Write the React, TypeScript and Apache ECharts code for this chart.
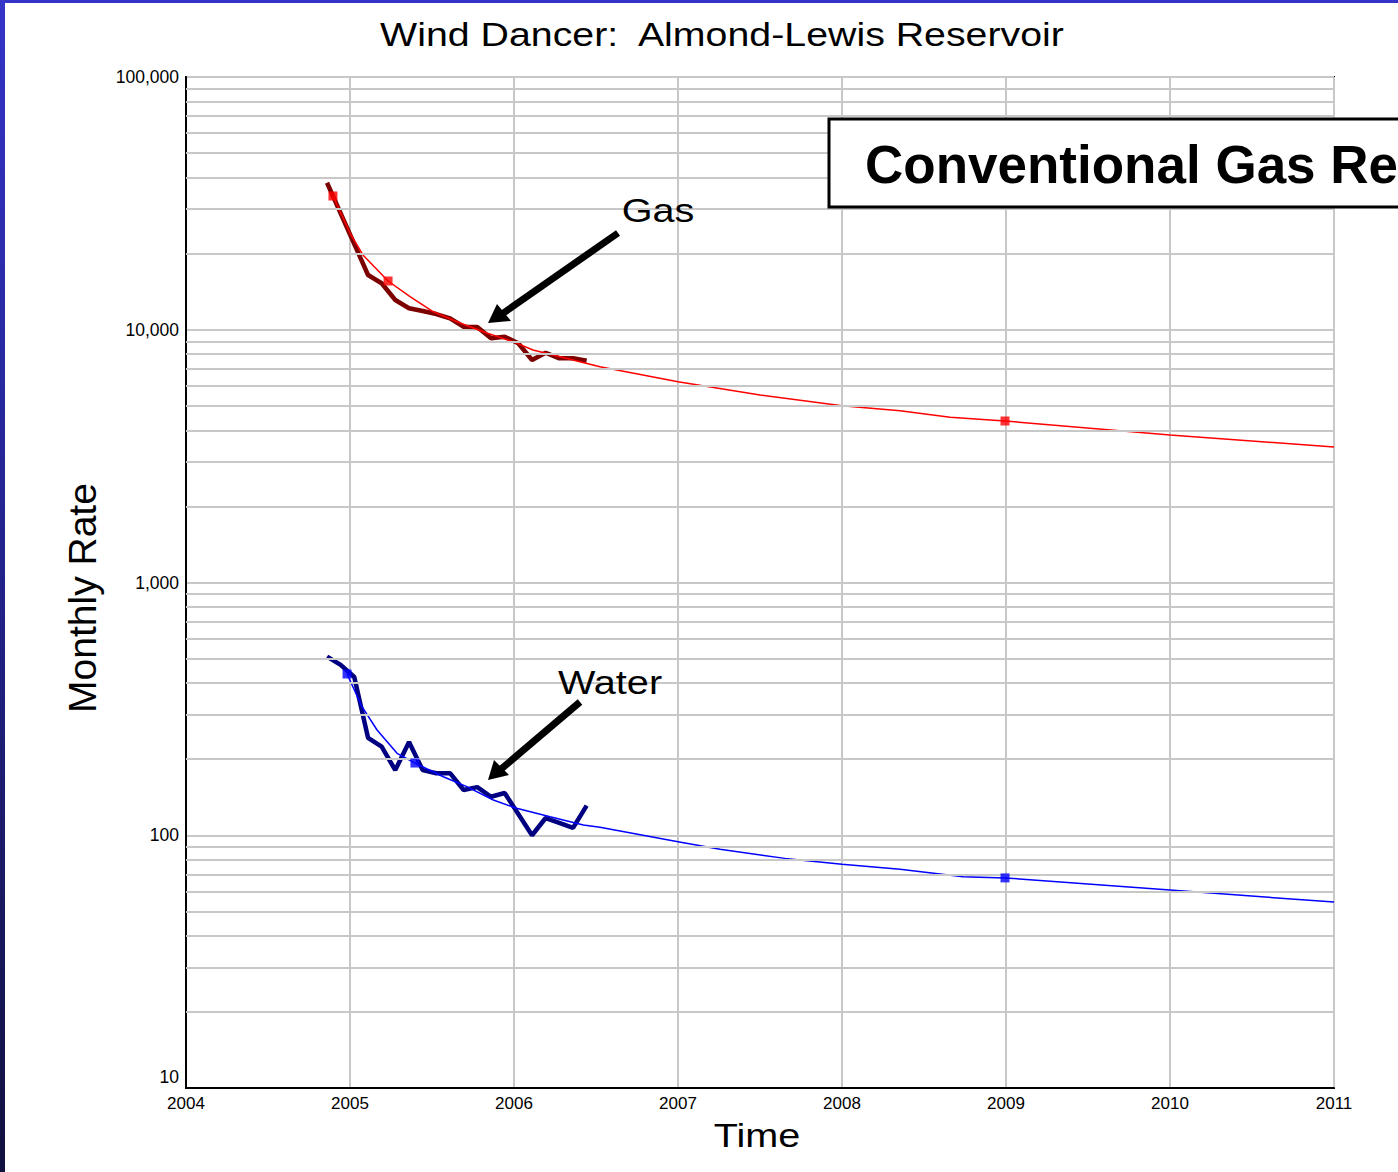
import React, { useEffect, useRef } from "react";
import * as echarts from "echarts";

// ---- data ----
const xTickYears = [2004, 2005, 2006, 2007, 2008, 2009, 2010, 2011];
const yDecades = [10, 100, 1000, 10000, 100000];

const gasObsYears = [2004.86, 2005.11, 2005.193, 2005.276, 2005.36, 2005.443, 2005.526, 2005.61, 2005.693, 2005.776, 2005.86, 2005.943, 2006.026, 2006.11, 2006.193, 2006.276, 2006.36, 2006.443];
const gasObsRates = [38170, 16470, 15270, 13115, 12160, 11865, 11540, 11100, 10280, 10250, 9250, 9390, 8840, 7590, 8110, 7710, 7710, 7545];

const waterObsYears = [2004.86, 2004.943, 2005.026, 2005.11, 2005.193, 2005.276, 2005.36, 2005.443, 2005.526, 2005.61, 2005.693, 2005.776, 2005.86, 2005.943, 2006.11, 2006.193, 2006.276, 2006.36, 2006.443];
const waterObsRates = [509, 472, 423, 243, 224, 181, 234, 181, 176, 176, 151, 155, 142, 147, 100, 117, 112, 107, 131];

const gasFcYears = [2004.896, 2005.0, 2005.079, 2005.232, 2005.366, 2005.506, 2005.671, 2005.834, 2005.994, 2006.116, 2006.524, 2007.0, 2007.5, 2008.0, 2008.354, 2008.659, 2008.994, 2010.0, 2011.0];
const gasFcRates = [33820, 24140, 19760, 15590, 13510, 11790, 10630, 9708, 8970, 8316, 7142, 6230, 5518, 5006, 4783, 4504, 4355, 3834, 3437];

const waterFcYears = [2004.982, 2005.073, 2005.165, 2005.287, 2005.407, 2005.569, 2005.712, 2005.874, 2006.016, 2006.22, 2006.423, 2006.524, 2007.0, 2007.256, 2007.652, 2008.0, 2008.354, 2008.738, 2008.994, 2010.0, 2011.0];
const waterFcRates = [434.5, 322.6, 260.8, 210.9, 191.4, 170.4, 155.7, 137.9, 127.8, 118.4, 109.8, 107.5, 94.3, 88.0, 81.0, 76.7, 73.3, 68.5, 67.8, 60.7, 54.4];

const gasMarkYears = [2004.896, 2005.232, 2008.994];
const gasMarkRates = [33820, 15590, 4355];
const waterMarkYears = [2004.982, 2005.396, 2008.994];
const waterMarkRates = [434.5, 193.1, 67.8];

const minorMultipliers = [2, 3, 4, 5, 6, 7, 8, 9];

const FONT = "'Liberation Sans', Arial, Helvetica, sans-serif";

function pairs(xs: number[], ys: number[]) {
  return xs.map((x, i) => [x, ys[i]]);
}

export default function App() {
  const ref = useRef<HTMLDivElement>(null);

  useEffect(() => {
    document.body.style.margin = "0";
    if (!ref.current) return;
    const chart = echarts.init(ref.current, null, { renderer: "svg" });

    const minorGrid: number[] = [];
    yDecades.slice(0, -1).forEach((d) => minorMultipliers.forEach((m) => minorGrid.push(d * m)));

    const gridLine = { color: "#c8c8c8", width: 2 };

    chart.setOption({
      animation: false,
      backgroundColor: "#ffffff",
      grid: {
        left: 186,
        right: 64,
        top: 77,
        bottom: 84,
        show: true,
        borderColor: "#000",
        borderWidth: 2,
        backgroundColor: "transparent",
      },
      xAxis: {
        type: "value",
        min: xTickYears[0],
        max: xTickYears[xTickYears.length - 1],
        interval: 1,
        axisLine: { lineStyle: { color: "#000", width: 2 } },
        axisTick: { show: false },
        axisLabel: {
          formatter: (v: number) => String(v),
          fontSize: 17,
          color: "#000",
          fontFamily: FONT,
          margin: 7,
        },
        splitLine: { show: true, lineStyle: gridLine },
      },
      yAxis: {
        type: "log",
        logBase: 10,
        min: yDecades[0],
        max: yDecades[yDecades.length - 1],
        axisLine: { lineStyle: { color: "#000", width: 2 } },
        axisTick: { show: false },
        axisLabel: {
          formatter: (v: number) =>
            v === yDecades[0] ? "{low|" + v.toLocaleString("en-US") + "}" : v.toLocaleString("en-US"),
          fontSize: 17.5,
          color: "#000",
          fontFamily: FONT,
          margin: 7,
          rich: { low: { fontSize: 17.5, fontFamily: FONT, color: "#000", padding: [0, 0, 22, 0] } },
        },
        splitLine: { show: true, lineStyle: gridLine },
      },
      series: [
        {
          name: "grid",
          type: "line",
          data: [],
          silent: true,
          z: 1,
          markLine: {
            silent: true,
            symbol: ["none", "none"],
            label: { show: false },
            lineStyle: { color: "#c8c8c8", width: 2, type: "solid" },
            emphasis: { disabled: true },
            data: minorGrid.map((v) => ({ yAxis: v })),
          },
        },
        {
          name: "Gas observed",
          type: "line",
          data: pairs(gasObsYears, gasObsRates),
          showSymbol: false,
          lineStyle: { color: "#7d0000", width: 4.5 },
          z: 3,
        },
        {
          name: "Water observed",
          type: "line",
          data: pairs(waterObsYears, waterObsRates),
          showSymbol: false,
          lineStyle: { color: "#000080", width: 4.5 },
          z: 3,
        },
        {
          name: "Gas forecast",
          type: "line",
          data: pairs(gasFcYears, gasFcRates),
          showSymbol: false,
          lineStyle: { color: "#ff0000", width: 1.5 },
          z: 4,
        },
        {
          name: "Water forecast",
          type: "line",
          data: pairs(waterFcYears, waterFcRates),
          showSymbol: false,
          lineStyle: { color: "#0000ff", width: 1.5 },
          z: 4,
        },
        {
          name: "Gas points",
          type: "scatter",
          data: pairs(gasMarkYears, gasMarkRates),
          symbol: "rect",
          symbolSize: 9,
          itemStyle: { color: "#ff0000" },
          z: 5,
        },
        {
          name: "Water points",
          type: "scatter",
          data: pairs(waterMarkYears, waterMarkRates),
          symbol: "rect",
          symbolSize: 9,
          itemStyle: { color: "#0000ff" },
          z: 5,
        },
      ],
      graphic: [
        {
          type: "rect",
          shape: { x: 0, y: 0, width: 5, height: 1172 },
          style: {
            fill: new echarts.graphic.LinearGradient(0, 0, 0, 1, [
              { offset: 0, color: "#3434c8" },
              { offset: 0.5, color: "#22228a" },
              { offset: 1, color: "#12103e" },
            ]),
          },
          z: 100,
        },
        {
          type: "rect",
          shape: { x: 0, y: 0, width: 1398, height: 3 },
          style: { fill: "#3434c8" },
          z: 100,
        },
        {
          type: "text",
          x: 722,
          y: 35,
          scaleX: 1.21,
          style: {
            text: "Wind Dancer:  Almond-Lewis Reservoir",
            fontSize: 32.5,
            fontFamily: FONT,
            fill: "#000",
            align: "center",
            verticalAlign: "middle",
          },
          z: 100,
        },
        {
          type: "text",
          x: 82,
          y: 598,
          rotation: Math.PI / 2,
          style: {
            text: "Monthly Rate",
            fontSize: 39,
            fontFamily: FONT,
            fill: "#000",
            align: "center",
            verticalAlign: "middle",
          },
          z: 100,
        },
        {
          type: "text",
          x: 757,
          y: 1136,
          scaleX: 1.2,
          style: {
            text: "Time",
            fontSize: 33,
            fontFamily: FONT,
            fill: "#000",
            align: "center",
            verticalAlign: "middle",
          },
          z: 100,
        },
        {
          type: "text",
          x: 658,
          y: 211,
          scaleX: 1.2,
          style: {
            text: "Gas",
            fontSize: 33,
            fontFamily: FONT,
            fill: "#000",
            align: "center",
            verticalAlign: "middle",
          },
          z: 100,
        },
        {
          type: "text",
          x: 610,
          y: 683,
          scaleX: 1.2,
          style: {
            text: "Water",
            fontSize: 33,
            fontFamily: FONT,
            fill: "#000",
            align: "center",
            verticalAlign: "middle",
          },
          z: 100,
        },
        {
          type: "line",
          shape: { x1: 618, y1: 233, x2: 502, y2: 314 },
          style: { stroke: "#000", lineWidth: 7 },
          z: 100,
        },
        {
          type: "polygon",
          shape: { points: [[488, 323], [497, 304], [511, 321]] },
          style: { fill: "#000" },
          z: 100,
        },
        {
          type: "line",
          shape: { x1: 580, y1: 702, x2: 500, y2: 770 },
          style: { stroke: "#000", lineWidth: 7 },
          z: 100,
        },
        {
          type: "polygon",
          shape: { points: [[488, 780], [494, 760], [509, 775]] },
          style: { fill: "#000" },
          z: 100,
        },
        {
          type: "rect",
          shape: { x: 829, y: 119, width: 620, height: 88 },
          style: { fill: "#fff", stroke: "#000", lineWidth: 3 },
          z: 110,
        },
        {
          type: "text",
          x: 865,
          y: 164,
          style: {
            text: "Conventional Gas Re",
            fontSize: 53,
            fontWeight: "bold",
            fontFamily: FONT,
            fill: "#000",
            align: "left",
            verticalAlign: "middle",
          },
          z: 111,
        },
      ],
    });

    return () => chart.dispose();
  }, []);

  return (
    <div
      ref={ref}
      style={{ position: "absolute", left: 0, top: 0, width: 1398, height: 1172 }}
    />
  );
}
